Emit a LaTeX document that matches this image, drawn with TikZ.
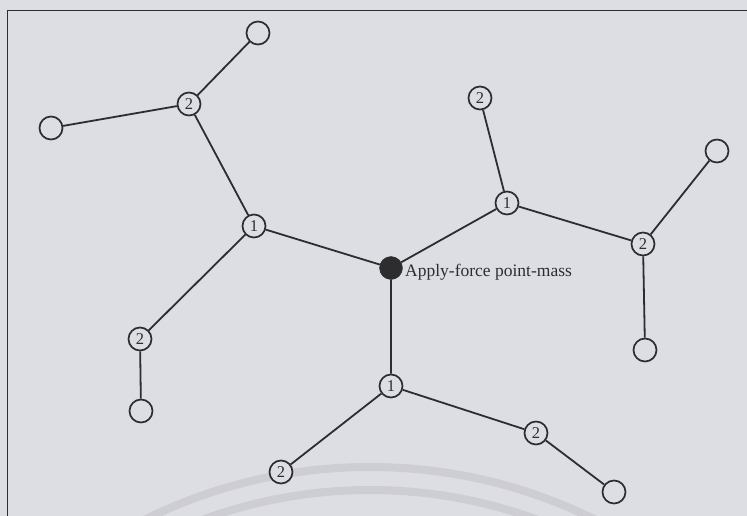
\documentclass[tikz,border=0pt]{standalone}
\usepackage{fontspec}
\setmainfont{Liberation Serif}
\definecolor{bg}{RGB}{221,222,227}
\definecolor{ink}{RGB}{45,45,47}
\definecolor{band}{RGB}{205,205,211}
\tikzset{
  mass/.style={circle,draw=ink,line width=1.7pt,fill=bg,minimum size=23pt,inner sep=0pt,font=\fontsize{16.5}{16.5}\selectfont,text=ink},
  heavy/.style={circle,fill=ink,draw=ink,minimum size=23pt,inner sep=0pt},
  link/.style={draw=ink,line width=1.8pt}
}
\begin{document}
\begin{tikzpicture}[x=1pt,y=-1pt]
\fill[bg] (0,0) rectangle (747,516);
\useasboundingbox (0,0) rectangle (747,516);
% faint background bands
\begin{scope}
\clip (0,0) rectangle (747,516);
\draw[band,line width=8pt] (370,974) circle[radius=507];
\draw[band,line width=8pt] (370,974) circle[radius=484];
\end{scope}
% frame
\draw[ink,line width=1.6pt] (7.5,520) -- (7.5,10.5) -- (750,10.5);
% nodes
\node[heavy] (c) at (391,268) {};
\node[mass] (a1) at (254,226) {1};
\node[mass] (a2) at (189,104) {2};
\node[mass] (a3) at (258,33) {};
\node[mass] (a4) at (51,128) {};
\node[mass] (a5) at (140,339) {2};
\node[mass] (a6) at (141,411) {};
\node[mass] (b1) at (507,203) {1};
\node[mass] (b2) at (480,98) {2};
\node[mass] (b3) at (643,244) {2};
\node[mass] (b4) at (717,151) {};
\node[mass] (b5) at (645,350) {};
\node[mass] (d1) at (391,386) {1};
\node[mass] (d2) at (281,472) {2};
\node[mass] (d3) at (536,433) {2};
\node[mass] (d4) at (614,492) {};
\node[anchor=west,inner sep=0pt,text=ink,font=\fontsize{17.5}{17.5}\selectfont] (lbl) at (405,272) {Apply-force point-mass};
% links
\path[link] (c) -- (a1) (a1) -- (a2) (a2) -- (a3) (a2) -- (a4) (a1) -- (a5) (a5) -- (a6)
  (c) -- (b1) (b1) -- (b2) (b1) -- (b3) (b3) -- (b4) (b3) -- (b5)
  (c) -- (d1) (d1) -- (d2) (d1) -- (d3) (d3) -- (d4);
\end{tikzpicture}
\end{document}
